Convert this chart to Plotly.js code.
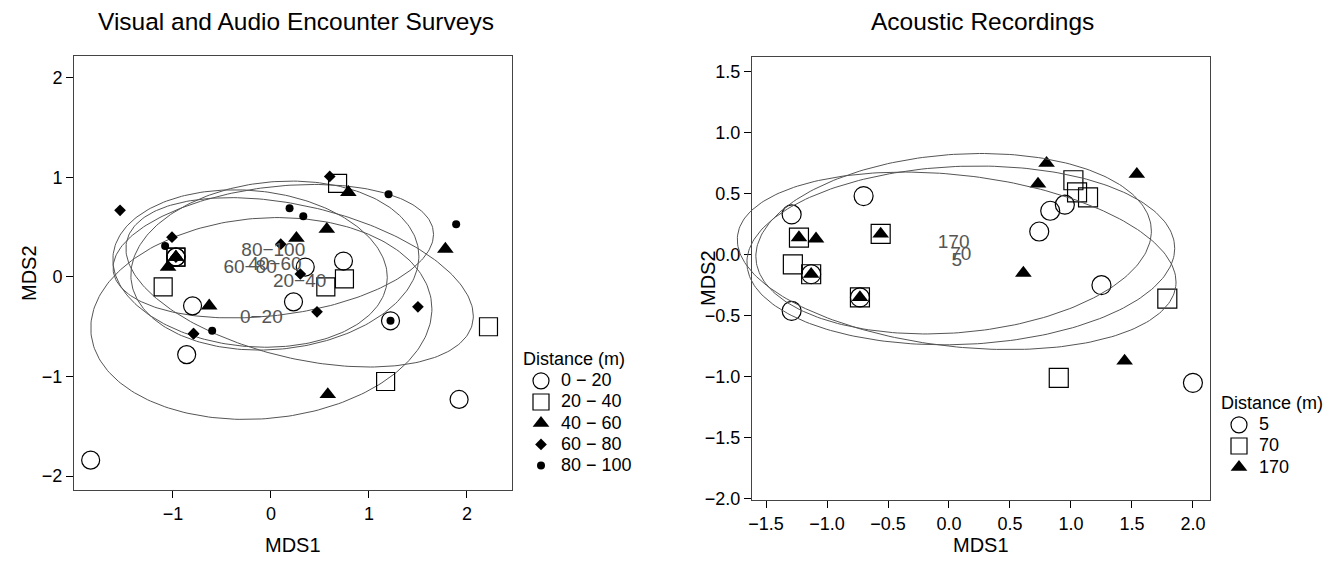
<!DOCTYPE html>
<html>
<head>
<meta charset="utf-8">
<script src="https://cdn.plot.ly/plotly-3.0.1.min.js"></script>
<style>html,body{margin:0;padding:0;background:#fff;}#chart{width:1332px;height:565px;}</style>
</head>
<body>
<div id="chart"></div>
<script>
// ---------- Data: Visual and Audio Encounter Surveys ----------
const vaesGroups = ["0 \u2212 20", "20 \u2212 40", "40 \u2212 60", "60 \u2212 80", "80 \u2212 100"];
const vaesLabels = ["0\u221220", "20\u221240", "40\u221260", "60\u221280", "80\u2212100"];
const vaes020X = [-1.84, -0.80, -0.86, -0.97, -0.97, 0.35, 0.74, 0.23, 1.22, 1.92];
const vaes020Y = [-1.84, -0.29, -0.78, 0.20, 0.20, 0.10, 0.16, -0.25, -0.44, -1.23];
const vaes2040X = [-0.97, -0.97, 0.68, 0.75, 0.56, -1.10, 2.22, 1.17];
const vaes2040Y = [0.20, 0.20, 0.94, -0.02, -0.10, -0.10, -0.50, -1.05];
const vaes4060X = [-0.97, -0.97, -1.05, 0.26, 0.79, 0.57, 1.78, -0.63, 0.58];
const vaes4060Y = [0.20, 0.20, 0.10, 0.39, 0.85, 0.48, 0.28, -0.29, -1.18];
const vaes6080X = [-1.54, -1.01, -0.97, 0.10, 0.60, 0.30, 0.47, 1.50, -0.79, -0.79];
const vaes6080Y = [0.67, 0.40, 0.20, 0.33, 1.01, 0.03, -0.35, -0.30, -0.57, -0.57];
const vaes80100X = [-1.08, -0.97, -0.97, -0.97, 0.19, 0.33, 1.20, 1.89, 1.22, -0.60];
const vaes80100Y = [0.31, 0.20, 0.20, 0.20, 0.69, 0.61, 0.83, 0.53, -0.44, -0.54];
const vaesXTicks = [-1, 0, 1, 2];
const vaesYTicks = [-2, -1, 0, 1, 2];

// ---------- Data: Acoustic Recordings ----------
const acGroups = ["5", "70", "170"];
const ac5X = [-1.29, -0.70, -1.13, -0.73, -1.29, 0.95, 0.83, 0.74, 1.25, 2.00];
const ac5Y = [0.33, 0.48, -0.16, -0.35, -0.46, 0.41, 0.36, 0.19, -0.25, -1.05];
const ac70X = [-1.23, -0.56, -1.28, -1.13, -0.73, 1.02, 1.05, 1.14, 1.79, 0.90];
const ac70Y = [0.14, 0.17, -0.08, -0.16, -0.35, 0.61, 0.51, 0.47, -0.36, -1.01];
const ac170X = [-1.23, -1.09, -0.56, -1.13, -0.73, 0.80, 0.73, 1.54, 0.61, 1.44];
const ac170Y = [0.14, 0.13, 0.17, -0.16, -0.35, 0.75, 0.58, 0.66, -0.15, -0.87];
const acXTicks = [-1.5, -1.0, -0.5, 0.0, 0.5, 1.0, 1.5, 2.0];
const acYTicks = [-2.0, -1.5, -1.0, -0.5, 0.0, 0.5, 1.0, 1.5];

// ---------- helpers ----------
const ELL_SCALE = 1.48;
function mean(a){ return a.reduce((s,v)=>s+v,0)/a.length; }
function ellipse(xs, ys, t){
  const n = xs.length, mx = mean(xs), my = mean(ys);
  let sxx=0, syy=0, sxy=0;
  for(let i=0;i<n;i++){ const dx=xs[i]-mx, dy=ys[i]-my; sxx+=dx*dx; syy+=dy*dy; sxy+=dx*dy; }
  sxx/=(n-1); syy/=(n-1); sxy/=(n-1);
  const l11=Math.sqrt(sxx), l21=sxy/l11, l22=Math.sqrt(Math.max(syy-l21*l21,0));
  const ex=[], ey=[];
  for(let k=0;k<=240;k++){
    const a = 2*Math.PI*k/240, c=Math.cos(a), s=Math.sin(a);
    ex.push(mx + t*l11*c);
    ey.push(my + t*(l21*c + l22*s));
  }
  return {ex, ey, mx, my};
}

const FONT = 'Liberation Sans, Arial, sans-serif';
const ELL_COLOR = '#555555';
const ellTraces = [], ptTraces = [], txtTraces = [];
function legName(s){ return '<span style="font-size:18px">' + s + '</span>'; }
function addGroup(xs, ys, name, label, sym, size, filled, xa, ya, exa, eya, legend){
  const e = ellipse(xs, ys, ELL_SCALE);
  ellTraces.push({x:e.ex, y:e.ey, mode:'lines', line:{color:ELL_COLOR, width:1}, xaxis:exa, yaxis:eya, showlegend:false, hoverinfo:'skip'});
  ptTraces.push({x:xs, y:ys, mode:'markers', name:legName(name), xaxis:xa, yaxis:ya, legend:legend, cliponaxis:false,
    marker:{symbol:sym, size:size, color:'#000', line:{color:'#000', width: filled?0:1.2}}});
  return {label, mx:e.mx, my:e.my};
}
function addLabels(list, xa, ya){
  txtTraces.push({x:list.map(d=>d.mx), y:list.map(d=>d.my), text:list.map(d=>d.label), mode:'text',
    textfont:{family:FONT, size:19, color:'#555555'}, textposition:'middle center',
    xaxis:xa, yaxis:ya, showlegend:false, hoverinfo:'skip'});
}

const lab1 = [];
lab1.push(addGroup(vaes020X, vaes020Y, vaesGroups[0], vaesLabels[0], 'circle-open', 18, false, 'x', 'y', 'x', 'y', 'legend'));
lab1.push(addGroup(vaes2040X, vaes2040Y, vaesGroups[1], vaesLabels[1], 'square-open', 18, false, 'x', 'y', 'x', 'y', 'legend'));
lab1.push(addGroup(vaes4060X, vaes4060Y, vaesGroups[2], vaesLabels[2], 'triangle-up', 14.5, true, 'x', 'y', 'x', 'y', 'legend'));
lab1.push(addGroup(vaes6080X, vaes6080Y, vaesGroups[3], vaesLabels[3], 'diamond', 9, true, 'x', 'y', 'x', 'y', 'legend'));
lab1.push(addGroup(vaes80100X, vaes80100Y, vaesGroups[4], vaesLabels[4], 'circle', 8, true, 'x', 'y', 'x', 'y', 'legend'));
addLabels(lab1, 'x', 'y');

const lab2 = [];
lab2.push(addGroup(ac5X, ac5Y, acGroups[0], acGroups[0], 'circle-open', 19, false, 'x2', 'y2', 'x3', 'y3', 'legend2'));
lab2.push(addGroup(ac70X, ac70Y, acGroups[1], acGroups[1], 'square-open', 19, false, 'x2', 'y2', 'x3', 'y3', 'legend2'));
lab2.push(addGroup(ac170X, ac170Y, acGroups[2], acGroups[2], 'triangle-up', 14.5, true, 'x2', 'y2', 'x3', 'y3', 'legend2'));
addLabels(lab2, 'x2', 'y2');

const traces = ellTraces.concat(ptTraces, txtTraces);

const W=1332, H=565;
const px = v => v/W, py = v => 1 - v/H;

function axisBase(){
  return {showgrid:false, zeroline:false, showline:true, mirror:true, linecolor:'#444', linewidth:1,
    ticks:'outside', ticklen:7, tickcolor:'#000', tickwidth:1,
    tickfont:{family:FONT, size:18, color:'#000'}, tickmode:'array', fixedrange:true};
}

// right panel geometry (pixels) and an unclipped twin for the ellipses
const R_L=752, R_R=1210, R_T=57, R_B=500;
const r2x=[-1.615, 2.14], r2y=[-2.01, 1.62];
const pxPerX = (R_R-R_L)/(r2x[1]-r2x[0]);
const EXT = 60;

const layout = {
  width:W, height:H, margin:{l:0,r:0,t:0,b:0}, paper_bgcolor:'#fff', plot_bgcolor:'rgba(0,0,0,0)',
  font:{family:FONT, color:'#000'},
  xaxis: Object.assign(axisBase(), {domain:[px(74), px(512)], range:[-2.01, 2.46], tickvals:vaesXTicks, ticktext:vaesXTicks.map(v=>String(v).replace('-','\u2212')), anchor:'y'}),
  yaxis: Object.assign(axisBase(), {domain:[py(490), py(56)], range:[-2.14, 2.22], tickvals:vaesYTicks, ticktext:vaesYTicks.map(v=>String(v).replace('-','\u2212')), anchor:'x'}),
  xaxis2: Object.assign(axisBase(), {domain:[px(R_L), px(R_R)], range:r2x, tickvals:acXTicks, ticktext:acXTicks.map(v=>v.toFixed(1).replace('-','\u2212')), anchor:'y2'}),
  yaxis2: Object.assign(axisBase(), {domain:[py(R_B), py(R_T)], range:r2y, tickvals:acYTicks, ticktext:acYTicks.map(v=>v.toFixed(1).replace('-','\u2212')), anchor:'x2'}),
  xaxis3: {domain:[px(R_L-EXT), px(R_R)], range:[r2x[0]-EXT/pxPerX, r2x[1]], visible:false, anchor:'y3', fixedrange:true},
  yaxis3: {domain:[py(R_B), py(R_T)], range:r2y, visible:false, anchor:'x3', fixedrange:true},
  legend:{x:px(521), y:py(347), xanchor:'left', yanchor:'top', bgcolor:'rgba(0,0,0,0)', borderwidth:0,
    title:{text:legName('Distance (m)'), font:{family:FONT, size:14}}, font:{family:FONT, size:14}, itemsizing:'trace', tracegroupgap:0},
  legend2:{x:px(1219), y:py(391), xanchor:'left', yanchor:'top', bgcolor:'rgba(0,0,0,0)', borderwidth:0,
    title:{text:legName('Distance (m)'), font:{family:FONT, size:14}}, font:{family:FONT, size:14}, itemsizing:'trace', tracegroupgap:0},
  annotations:[
    {text:'Visual and Audio Encounter Surveys', x:px(296), y:py(21), xref:'paper', yref:'paper', showarrow:false, font:{family:FONT, size:24.5}, xanchor:'center', yanchor:'middle'},
    {text:'Acoustic Recordings', x:px(982), y:py(21), xref:'paper', yref:'paper', showarrow:false, font:{family:FONT, size:24.5}, xanchor:'center', yanchor:'middle'},
    {text:'MDS1', x:px(293), y:py(545), xref:'paper', yref:'paper', showarrow:false, font:{family:FONT, size:20}, xanchor:'center', yanchor:'middle'},
    {text:'MDS1', x:px(981), y:py(545), xref:'paper', yref:'paper', showarrow:false, font:{family:FONT, size:20}, xanchor:'center', yanchor:'middle'},
    {text:'MDS2', x:px(29), y:py(273), xref:'paper', yref:'paper', showarrow:false, font:{family:FONT, size:20}, textangle:-90, xanchor:'center', yanchor:'middle'},
    {text:'MDS2', x:px(708), y:py(278), xref:'paper', yref:'paper', showarrow:false, font:{family:FONT, size:20}, textangle:-90, xanchor:'center', yanchor:'middle'}
  ],
  showlegend:true
};

Plotly.newPlot('chart', traces, layout, {staticPlot:true, displayModeBar:false});
</script>
</body>
</html>
